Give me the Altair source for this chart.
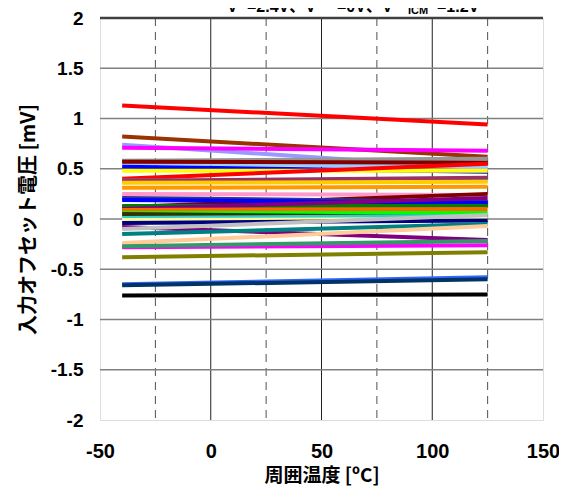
import altair as alt
import pandas as pd

# ---- data ----
temps = [-40, 125]
series_names = [f"s{i:02d}" for i in range(1, 37)]
colors = ["#ff0000", "#993300", "#9999ff", "#ff00ff", "#969696", "#99ccff",
          "#800000", "#0000ff", "#ffff00", "#ff0000", "#00ffff", "#993366",
          "#ffcc00", "#ff9900", "#ff99cc", "#800000", "#333399", "#0000ff",
          "#008000", "#800080", "#ff6600", "#00ff00", "#333300", "#33cccc",
          "#ffff99", "#000080", "#800080", "#c0c0c0", "#008080", "#ffcc99",
          "#ff00ff", "#339966", "#808000", "#3366ff", "#003366", "#000000"]
v_start = [1.13, 0.82, 0.74, 0.71, 0.58, 0.56,
           0.57, 0.52, 0.48, 0.40, 0.38, 0.38,
           0.36, 0.31, 0.25, 0.12, 0.21, 0.19,
           0.13, 0.10, 0.09, 0.06, 0.05, 0.01,
           -0.01, -0.04, -0.08, -0.10, -0.15, -0.24,
           -0.28, -0.27, -0.38, -0.65, -0.66, -0.76]
v_end = [0.94, 0.62, 0.50, 0.68, 0.60, 0.52,
         0.56, 0.47, 0.48, 0.55, 0.38, 0.41,
         0.37, 0.32, 0.24, 0.25, 0.17, 0.16,
         0.13, 0.21, 0.10, 0.06, 0.015, 0.03,
         0.00, -0.015, -0.21, 0.04, -0.05, -0.07,
         -0.26, -0.22, -0.33, -0.58, -0.60, -0.75]

x_ticks = [-50, 0, 50, 100, 150]
x_solid = [0, 50, 100]
x_dashed = [-25, 25, 75, 125]
y_ticks = [-2, -1.5, -1, -0.5, 0, 0.5, 1, 1.5, 2]
y_grid = [-1.5, -1, -0.5, 0, 0.5, 1, 1.5]

x_title = "周囲温度 [ºC]"
y_title = "入力オフセット電圧 [mV]"

rows = []
for i, name in enumerate(series_names):
    rows.append({"s": name, "t": temps[0], "v": v_start[i], "o": i})
    rows.append({"s": name, "t": temps[1], "v": v_end[i], "o": i})
df = pd.DataFrame(rows)

FONT = "Liberation Sans, Arial, Noto Sans CJK JP"
JFONT = "Noto Sans CJK JP"

xs = alt.Scale(domain=[-50, 150], nice=False, zero=False)
ys = alt.Scale(domain=[-2, 2], nice=False, zero=False)

label_expr = "datum.value < 0 ? '-' + format(-datum.value, '~g') : format(datum.value, '~g')"

x_axis = alt.Axis(values=x_ticks, title=x_title, grid=False, domain=False, ticks=False,
                  labelFlush=False, labelOverlap=False,
                  labelFont=FONT, labelFontSize=20, labelFontWeight="bold", labelColor="black",
                  labelPadding=21, titleFont=JFONT, titleFontSize=19, titleFontWeight="bold",
                  titleColor="black", titlePadding=5, labelExpr=label_expr)
y_axis = alt.Axis(values=y_ticks, title=y_title, grid=False, domain=False, ticks=False,
                  labelFlush=False, labelOverlap=False,
                  labelFont=FONT, labelFontSize=19, labelFontWeight="bold", labelColor="black",
                  labelPadding=17, titleFont=JFONT, titleFontSize=20, titleFontWeight="bold",
                  titleColor="black", titlePadding=12, labelExpr=label_expr)


def X(field):
    return alt.X(field, scale=xs, axis=x_axis)


def Y(field):
    return alt.Y(field, scale=ys, axis=y_axis)


hgrid = alt.Chart(pd.DataFrame({"v": y_grid})).mark_rule(color="#808080", strokeWidth=1.5).encode(
    y=Y("v:Q")
)
top_border = alt.Chart(pd.DataFrame({"v": [2]})).mark_rule(color="#404040", strokeWidth=2.5).encode(
    y=Y("v:Q")
)
vsolid = alt.Chart(pd.DataFrame({"t": x_solid})).mark_rule(color="#202020", strokeWidth=1).encode(
    x=X("t:Q")
)
vdash = alt.Chart(pd.DataFrame({"t": x_dashed})).mark_rule(
    color="#505050", strokeWidth=1, strokeDash=[8, 6]).encode(
    x=X("t:Q")
)

lines = alt.Chart(df).mark_line(strokeWidth=4, clip=True).encode(
    x=X("t:Q"),
    y=Y("v:Q"),
    color=alt.Color("s:N", scale=alt.Scale(domain=series_names, range=colors), legend=None),
    detail="s:N",
    order="o:Q",
)

# partially clipped condition title at the top (as in the reference)
title_parts = pd.DataFrame({
    "txt": ["V", "=2.4V、V", "=0V、V", "=1.2V"],
    "px": [127, 147, 237, 337],
})
title_main = alt.Chart(title_parts).mark_text(
    align="left", baseline="alphabetic", font=FONT, fontSize=16, fontWeight="bold", color="black"
).encode(x=alt.X("px:Q", scale=None, axis=None), y=alt.value(-6), text="txt:N")
title_sub = alt.Chart(pd.DataFrame({"txt": ["ICM"], "px": [308]})).mark_text(
    align="left", baseline="alphabetic", font=FONT, fontSize=11, fontWeight="bold", color="black"
).encode(x=alt.X("px:Q", scale=None, axis=None), y=alt.value(-4), text="txt:N")

chart = alt.layer(vdash, vsolid, hgrid, lines, top_border, title_main, title_sub).properties(
    width=443, height=402,
    autosize=alt.AutoSizeParams(type="none"),
    padding={"left": 92, "top": 10, "right": 16, "bottom": 67},
).configure_view(stroke="black", strokeWidth=1.5).configure(background="white")

chart.save("out.html", embed_options={"renderer": "svg", "actions": False})
